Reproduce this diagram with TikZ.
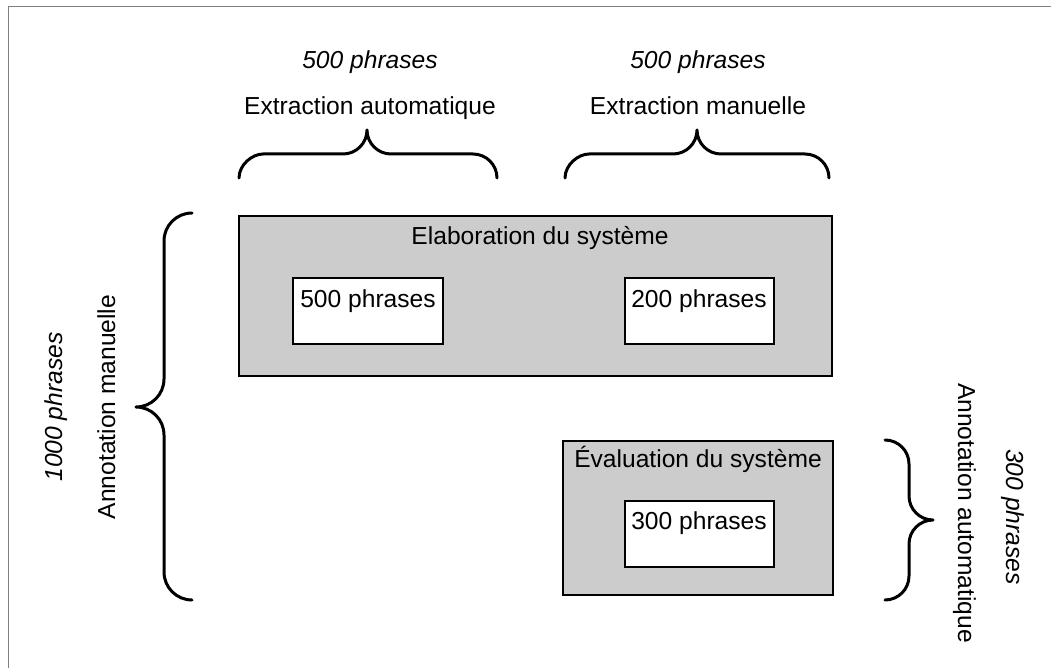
\documentclass[tikz,border=0pt]{standalone}
\usepackage{fontspec}
\setmainfont{Liberation Sans}
\begin{document}
\begin{tikzpicture}[x=1pt,y=-1pt,
  txt/.style={font=\fontsize{24.6}{29}\selectfont, inner sep=0pt, outer sep=0pt},
  itxt/.style={txt, font=\fontsize{24.6}{29}\selectfont\itshape},
  graybox/.style={draw=black, line width=1.5pt, fill=boxgray, inner sep=0pt, outer sep=0pt, anchor=north west},
  whitebox/.style={draw=black, line width=1.5pt, fill=white, inner sep=0pt, outer sep=0pt, anchor=north west},
  bracepath/.style={draw=black, line width=3pt, line cap=round, line join=round}]
\definecolor{boxgray}{HTML}{CCCCCC}
\definecolor{framegray}{HTML}{808080}
\useasboundingbox (0,0) rectangle (1051,668);
\draw[framegray, line width=1pt] (8,7) rectangle (1070,690);

% top labels
\node[itxt, anchor=base] (n500a) at (370,69) {500 phrases};
\node[txt, anchor=base] (extA) at (370,115) {Extraction automatique};
\node[itxt, anchor=base] (n500b) at (698,69) {500 phrases};
\node[txt, anchor=base] (extM) at (698,115) {Extraction manuelle};

% top braces
\draw[bracepath] (239,178) .. controls (239,164.75) and (252.25,154) .. (263,154) -- (343,154) .. controls (356.25,154) and (367,143.25) .. (367,130) .. controls (367,143.25) and (377.75,154) .. (391,154) -- (473,154) .. controls (486.25,154) and (497,164.75) .. (497,178);
\draw[bracepath] (565,178) .. controls (565,164.75) and (578.25,154) .. (589,154) -- (673,154) .. controls (686.25,154) and (697,143.25) .. (697,130) .. controls (697,143.25) and (707.75,154) .. (721,154) -- (805,154) .. controls (818.25,154) and (829,164.75) .. (829,178);

% system elaboration box
\node[graybox, minimum width=593pt, minimum height=160pt] (elab) at (239,216) {};
\node[txt, anchor=base] (elabt) at (540,244) {Elaboration du système};
\node[whitebox, minimum width=150pt, minimum height=66pt] (b500) at (293,278) {};
\node[txt, anchor=base] (t500) at (368,307) {500 phrases};
\node[whitebox, minimum width=149pt, minimum height=66pt] (b200) at (625,278) {};
\node[txt, anchor=base] (t200) at (699,307) {200 phrases};

% evaluation box
\node[graybox, minimum width=270pt, minimum height=154pt] (eval) at (563,441) {};
\node[txt, anchor=base] (evalt) at (698,467) {Évaluation du système};
\node[whitebox, minimum width=149pt, minimum height=66pt] (b300) at (625,501) {};
\node[txt, anchor=base] (t300) at (699,529) {300 phrases};

% left brace and labels
\draw[bracepath] (192,213) .. controls (176.5,213) and (164,225.5) .. (164,241) -- (164,379) .. controls (164,394.5) and (151.5,407) .. (136,407) .. controls (151.5,407) and (164,419.5) .. (164,435) -- (164,572) .. controls (164,587.5) and (176.5,600) .. (192,600);
\node[txt, rotate=90, anchor=base] (annm) at (115,407) {Annotation manuelle};
\node[itxt, rotate=90, anchor=base] (n1000) at (62,407) {1000 phrases};

% right brace and labels
\draw[bracepath] (885,440) .. controls (898.25,440) and (909,450.75) .. (909,464) -- (909,496) .. controls (909,509.25) and (919.75,520) .. (933,520) .. controls (919.75,520) and (909,530.75) .. (909,544) -- (909,576) .. controls (909,589.25) and (898.25,600) .. (885,600);
\node[txt, rotate=-90, anchor=base] (anna) at (958,513) {Annotation automatique};
\node[itxt, rotate=-90, anchor=base] (n300) at (1006,517) {300 phrases};
\end{tikzpicture}
\end{document}
